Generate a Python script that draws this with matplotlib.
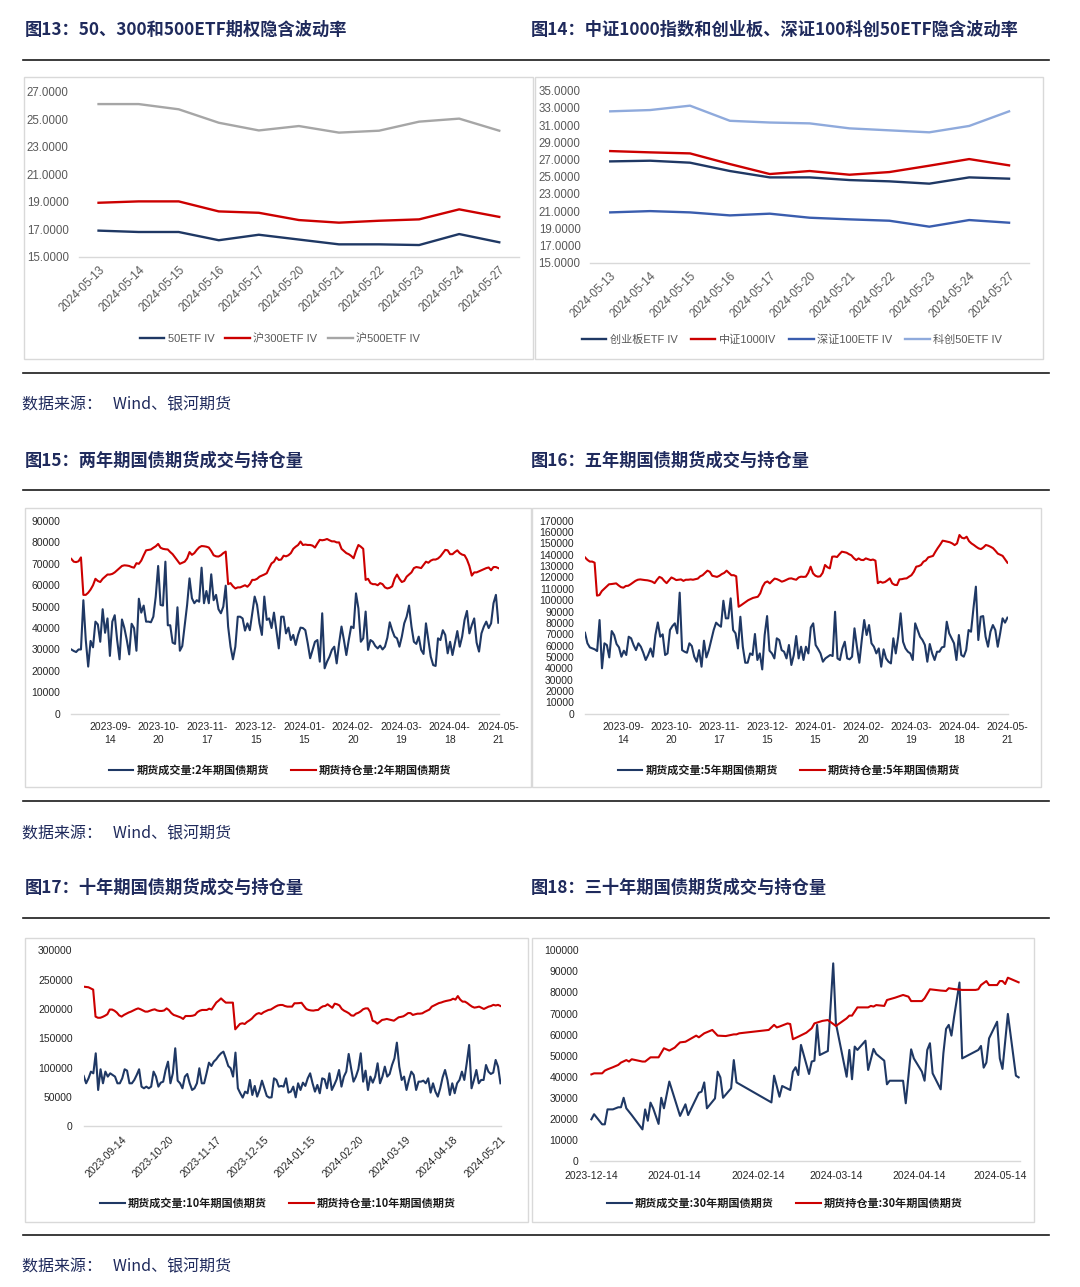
import numpy as np
import pandas as pd
import matplotlib
matplotlib.use("Agg")
import matplotlib.pyplot as plt
from matplotlib.patches import Rectangle
from matplotlib.lines import Line2D
from matplotlib.font_manager import FontProperties

plt.rcParams['font.family'] = ['Liberation Sans', 'Noto Sans CJK SC', 'DejaVu Sans']

# ---------------- data ----------------
iv_dates = ['2024-05-13', '2024-05-14', '2024-05-15', '2024-05-16', '2024-05-17', '2024-05-20',
            '2024-05-21', '2024-05-22', '2024-05-23', '2024-05-24', '2024-05-27']
iv_50 = [16.90, 16.80, 16.80, 16.20, 16.60, 16.25, 15.90, 15.90, 15.85, 16.65, 16.05]
iv_300 = [18.93, 19.03, 19.03, 18.30, 18.20, 17.67, 17.48, 17.62, 17.72, 18.45, 17.90]
iv_500 = [26.12, 26.12, 25.74, 24.76, 24.20, 24.52, 24.04, 24.18, 24.84, 25.06, 24.18]
iv_cyb = [26.78, 26.86, 26.63, 25.66, 24.92, 24.92, 24.61, 24.46, 24.19, 24.92, 24.77]
iv_zz1000 = [27.98, 27.83, 27.71, 26.47, 25.31, 25.66, 25.23, 25.54, 26.28, 27.05, 26.32]
iv_sz100 = [20.85, 21.00, 20.85, 20.50, 20.70, 20.23, 20.04, 19.88, 19.19, 19.96, 19.65]
iv_kc50 = [32.60, 32.75, 33.26, 31.50, 31.30, 31.20, 30.62, 30.39, 30.16, 30.90, 32.60]

# daily futures axis labels (every 20 trading days, last = 2024-05-21)
fut_labels = ['2023-09-14', '2023-10-20', '2023-11-17', '2023-12-15', '2024-01-15',
              '2024-02-20', '2024-03-19', '2024-04-18', '2024-05-21']
n_days = 177

# 2年期 (thousand lots)
vol2 = [30, 29.3, 28.8, 30, 30, 53, 34.4, 22, 34, 31,
        43, 41.7, 33.6, 48.8, 37.8, 44.5, 27, 43, 46, 34.4,
        25.4, 44, 40, 34.4, 27.7, 42, 40, 29.4, 53.7, 47.2,
        50.5, 43, 43, 42.7, 45.3, 54.7, 69, 50.8, 50.5, 71,
        41.3, 41.3, 33.2, 32.6, 49.7, 29.4, 31.6, 41.3, 50.8, 63.2,
        53.9, 51.6, 53, 52.3, 68.2, 51.6, 57.3, 51.6, 65.1, 53,
        55.5, 48.8, 46.9, 50, 59.8, 40.7, 31.3, 25.4, 31.3, 45.3,
        45.3, 44.5, 38.8, 42.2, 39, 46.9, 54.7, 50.8, 42.2, 36.8,
        54.7, 43.8, 44.5, 40, 47.2, 39, 30.5, 45.3, 45.3, 37.5,
        40.2, 34.4, 36.8, 32.1, 36.8, 40.2, 40, 39, 32.9, 25.9,
        29.8, 33.6, 34.4, 24.3, 46.9, 21.2, 24.3, 26.6, 29.8, 31.3,
        23.5, 32.9, 40.7, 34.4, 27.4, 34.4, 40.7, 40, 56.2, 49.2,
        33.6, 35.2, 47.7, 29.8, 34.4, 33.6, 31.6, 30.5, 31.8, 30,
        31.3, 35.5, 42.7, 39, 36, 35.2, 31.3, 36, 42.2, 45.3,
        50.5, 40.7, 33.6, 32.6, 36, 29.8, 27.9, 42.2, 34.4, 26.6,
        22.7, 22.3, 35.2, 34.4, 39, 36.8, 28.2, 33.6, 27.4, 32.9,
        38.6, 31.3, 36, 43.8, 48, 37.5, 41.4, 44.5, 33.2, 29,
        37.5, 40.7, 43, 40, 42.2, 51.6, 55.5, 42.5]
oi2 = [72.3, 71, 70.8, 71.2, 73, 55.5, 55.5, 56.5, 58, 60,
       63, 62, 61.5, 63, 64, 65, 65, 65.3, 66, 67,
       68, 69, 69.3, 69.2, 69, 68.5, 68.2, 70.3, 70, 71.5,
       74, 76.3, 76.5, 76.7, 77.5, 78.2, 79.3, 77.5, 77, 76.8,
       76.7, 75.5, 74.5, 73, 71.5, 70, 70.5, 71, 72.5, 75.5,
       74.2, 75, 76.5, 77.7, 78.3, 78.2, 78, 77.6, 76, 74,
       73.5, 73.4, 74, 75, 75.7, 60.5, 61, 59.5, 58.5, 59,
       59, 59.5, 60, 59.3, 60.5, 62.5, 62.5, 63, 64, 64.5,
       65, 65.6, 68, 70.2, 71, 73, 71.8, 72, 73.8, 73.5,
       74, 75, 77, 78, 78.8, 80.4, 78.8, 79, 78.8, 78.8,
       78.5, 77.6, 79.5, 81.2, 81, 81.2, 81.6, 81, 80.5, 80.5,
       80, 80, 77, 76, 75, 74.5, 73.7, 72.6, 76, 78.8,
       78, 77, 62.5, 63, 61, 60.5, 60.5, 60, 61, 60.5,
       59, 58.5, 58.8, 59.5, 63, 65, 63, 61.5, 62, 64,
       65, 66, 68, 68.5, 68.3, 68, 69.5, 71, 70.5, 71.5,
       72, 72, 72.5, 73.5, 75, 76.5, 76.3, 74.5, 74.5, 75.5,
       76.3, 75, 74.3, 74, 72, 69, 64.5, 66, 66, 66.5,
       67, 67.5, 68, 68.3, 67, 68.5, 68.5, 68]

# 5年期 (thousand lots)
vol5 = [71.3, 62, 58.4, 57.5, 56.7, 55.2, 82.5, 40, 62, 60.5,
        49.6, 72.8, 69.3, 61.4, 58.4, 50.2, 55.5, 51.7, 67.8, 66.4,
        60.5, 56, 62, 59, 53.7, 47.3, 51.7, 57.5, 50.2, 69.3,
        80.4, 67.8, 69.9, 51.7, 53.1, 73.7, 77.2, 79.6, 70.8, 106.6,
        56, 54.6, 53.7, 62, 59.6, 50.2, 45.8, 56, 41.4, 64.3,
        49.6, 56, 64.9, 73.7, 80.2, 78.1, 76.6, 99.5, 84, 84,
        101.6, 73.7, 70.8, 57.5, 85.4, 59, 44.9, 44.9, 53.1, 51.7,
        70.2, 47.3, 53.1, 39, 69.3, 86, 55.5, 53.1, 48.7, 66.4,
        64.9, 56, 54.6, 48.7, 60.5, 42.9, 51.7, 68.4, 48.7, 59,
        47.3, 59, 53.1, 76, 79.6, 60.5, 57, 53.1, 45.8, 48.7,
        50.2, 51.7, 50.8, 89.8, 48.7, 47.3, 57.5, 63.4, 48.7, 47.9,
        50.2, 75.2, 59, 44.9, 64.9, 82.5, 69.3, 78.1, 62, 59,
        53.1, 57.5, 41.4, 56.7, 48.7, 45.8, 44.3, 66.4, 53.1, 67.8,
        88.4, 63.4, 57.5, 54.6, 53.1, 47.3, 79.6, 73.7, 67.8, 64.9,
        60.5, 45.8, 61.4, 53.1, 47.3, 54.6, 54.6, 58.4, 59, 81,
        70.8, 66.4, 62, 47.3, 69.3, 51.7, 50.2, 56, 73.7, 72.2,
        92.8, 111.9, 64.9, 85.4, 86, 67.8, 59, 72.2, 78.1, 73.7,
        59, 70.8, 84, 80.2, 84.6]
oi5 = [137.7, 135.5, 134, 134, 133, 104, 104.5, 108, 110, 112,
       114, 114.2, 114.5, 114.8, 113, 111.5, 111, 112.5, 112.7, 114,
       115.5, 117, 118, 118.3, 118, 117.7, 117.5, 117, 116.3, 115,
       118, 120.5, 119.5, 117, 115, 117.5, 120, 119, 117.7, 118,
       118.3, 117, 118, 118, 118.3, 118, 118.5, 119, 121, 122,
       124, 126, 125, 121.5, 121, 120.5, 121.5, 123, 124, 126,
       124, 122, 122, 121, 94.2, 95.5, 97, 98.5, 100, 101,
       102, 102.5, 103, 106, 112, 115.5, 116.5, 114.8, 117, 119,
       118.5, 117.5, 116.3, 117, 118, 119, 119.2, 118.5, 118, 120,
       120.7, 120.5, 120.7, 124, 129.5, 123.6, 121.5, 120.7, 121, 124,
       131, 129, 128, 138.3, 138.5, 138, 140.5, 142.7, 142.3, 141.8,
       140.5, 139.5, 137, 135.3, 136.8, 135.5, 135.3, 136.8, 136, 135.3,
       135.8, 134.8, 115, 116.3, 115.4, 116, 117.5, 119.2, 114.8, 113.5,
       113.3, 118.3, 118.5, 119, 119.2, 120.7, 122, 125, 129.5, 130,
       131, 133.9, 135, 137.7, 138.3, 139, 142.7, 146, 149, 152.4,
       152, 151.5, 151, 150, 148.5, 150, 157.4, 155, 154.4, 155.9,
       152, 150, 148.6, 147, 145.6, 145, 146.5, 148.6, 148, 147,
       145.8, 143.5, 141, 140, 139, 136, 133]

# 10年期 (thousand lots)
vol10 = [85.8, 73.3, 81.8, 93.2, 90.3, 124.4, 61.9, 97.2, 73.3, 93.2,
         84.7, 90.3, 87.5, 84.7, 73.3, 73.3, 81.8, 97.2, 94.9, 73.3,
         73.3, 79, 87.5, 97.2, 67.6, 64.8, 67.6, 64.8, 67.6, 93.2,
         84.7, 67.6, 74.4, 76.1, 96, 110.2, 73.3, 90.3, 133, 77.8,
         73.3, 64.8, 84.7, 89.2, 73.3, 61.9, 64.8, 73.3, 98.9, 73.3,
         73.3, 90.3, 108.5, 102.8, 110.2, 114.2, 119.9, 124.4, 127.3, 115.9,
         102.8, 98.9, 84.7, 125.6, 64.8, 56.3, 48.9, 59.1, 56.3, 79,
         53.4, 68.8, 50.6, 61.9, 77.8, 64.8, 51.7, 48.9, 49.4, 81.8,
         79, 67.6, 68.8, 67.6, 81.8, 57.4, 59.1, 67.6, 49.4, 73.3,
         61.9, 74.4, 68.8, 81.8, 90.3, 73.3, 59.1, 70.5, 56.3, 81.8,
         80.1, 64.8, 90.3, 61.9, 70.5, 80.1, 96, 67.6, 84.7, 93.2,
         123.3, 98.9, 76.1, 84.7, 97.2, 124.4, 76.1, 94.9, 61.9, 84.7,
         74.4, 84.7, 107.4, 73.3, 84.7, 101.7, 84.7, 89.2, 104.5, 115.9,
         142.6, 101.7, 79, 84.7, 61.9, 79, 93.2, 87.5, 61.9, 76.1,
         76.1, 77.8, 73.3, 81.8, 57.4, 73.3, 59.1, 50.6, 64.8, 83.5,
         96, 79, 53.4, 73.3, 56.3, 73.3, 79, 93.2, 79, 107.4,
         138.6, 64.8, 79, 96, 73.3, 79, 79, 104.5, 93.2, 89.2,
         91.5, 113.1, 101.7, 73.3]
oi10 = [238, 237.5, 237, 235, 233, 187, 185, 185, 186.5, 188.5,
        191, 199, 199, 197, 193.8, 189, 187, 189.8, 192, 194,
        195.5, 197.5, 199.5, 201, 199.5, 197.5, 195.5, 195.5, 197, 198.5,
        199.4, 197.5, 196.6, 196.6, 197.5, 201, 198, 193, 189.8, 188.5,
        187, 185.5, 183, 188, 188, 188, 188.5, 189.8, 194.5, 197,
        198.3, 198.3, 198.3, 200.5, 199, 205, 211, 214.2, 218, 214.2,
        210.8, 210.8, 210.8, 210.8, 165.3, 170, 174.5, 175.6, 174.4, 178,
        180.5, 183.5, 188, 191.5, 193, 191.5, 194.5, 196.5, 198.3, 199,
        201.5, 204, 206, 206.8, 206.8, 205, 204, 204, 204, 209.7,
        209.7, 210, 210.5, 205, 200, 198.3, 197.5, 197.2, 198, 198.3,
        202, 204.5, 205.1, 208, 205, 202, 209, 208, 206, 200,
        197, 195, 192.6, 189, 188.5, 192, 193.5, 196, 199.5, 201,
        201, 195, 180, 178.4, 175, 178, 181.3, 182, 183, 182,
        181, 180, 183, 185.8, 186.5, 187.5, 190, 193, 193, 189.8,
        191, 192, 192, 192.6, 195, 197, 199, 204, 206, 208,
        210, 211, 212.5, 213.6, 214.5, 215.3, 217.5, 216, 222, 216,
        212.5, 212.5, 210, 206.8, 204, 202.3, 203, 204, 202, 200,
        202, 204, 205, 207, 206, 207, 205.1]

# 30年期 (thousand lots), dated
vol30_dates = ['2023-12-14', '2023-12-15', '2023-12-18', '2023-12-19', '2023-12-20', '2023-12-22',
               '2023-12-24', '2023-12-25', '2023-12-26', '2023-12-27', '2023-12-28', '2023-12-29',
               '2024-01-02', '2024-01-03', '2024-01-04', '2024-01-05', '2024-01-06', '2024-01-08',
               '2024-01-09', '2024-01-10', '2024-01-12', '2024-01-16', '2024-01-18', '2024-01-19',
               '2024-01-23', '2024-01-24', '2024-01-25', '2024-01-26', '2024-01-29', '2024-01-30',
               '2024-01-31', '2024-02-01', '2024-02-04', '2024-02-05', '2024-02-06', '2024-02-19',
               '2024-02-20', '2024-02-22', '2024-02-23', '2024-02-26', '2024-02-27', '2024-02-28',
               '2024-02-29', '2024-03-01', '2024-03-04', '2024-03-05', '2024-03-06', '2024-03-07',
               '2024-03-08', '2024-03-11', '2024-03-13', '2024-03-14', '2024-03-18', '2024-03-19',
               '2024-03-20', '2024-03-21', '2024-03-22', '2024-03-25', '2024-03-26', '2024-03-28',
               '2024-03-29', '2024-04-01', '2024-04-02', '2024-04-03', '2024-04-08', '2024-04-09',
               '2024-04-11', '2024-04-12', '2024-04-15', '2024-04-16', '2024-04-17', '2024-04-18',
               '2024-04-19', '2024-04-22', '2024-04-23', '2024-04-24', '2024-04-25', '2024-04-26',
               '2024-04-27', '2024-04-29', '2024-04-30', '2024-05-06', '2024-05-07', '2024-05-08',
               '2024-05-09', '2024-05-10', '2024-05-13', '2024-05-14', '2024-05-15', '2024-05-17',
               '2024-05-20', '2024-05-21']
vol30 = [19.8, 22.2, 17.4, 17.4, 24.5, 24.5, 25.5, 25.5, 30, 25, 23.4, 21.8,
         15, 24.5, 19.1, 27.7, 25, 17.6, 30, 25, 37.7, 21.4, 26.9, 21.8,
         32.4, 32.9, 37.3, 25, 29.7, 42.4, 39.7, 30, 34.5, 47.9, 37.3, 27.8,
         40.5, 30.5, 35.6, 33.7, 42.4, 44.5, 40.8, 55.1, 41.3, 47.2, 47.6, 64.6,
         50.3, 52.2, 93.8, 65.3, 40, 52.7, 38.8, 54.3, 52.7, 57.1, 43.2, 53.2,
         50.8, 47.6, 36.4, 38.1, 38.1, 27.4, 53, 48.7, 42.4, 38.1, 52.7, 55.9,
         41.6, 34, 51.1, 62.7, 64.6, 59.5, 68.5, 84.7, 48.7, 52.7, 54.6, 44.3,
         46.7, 58.2, 66.1, 48.7, 43.7, 69.8, 40.5, 39.7]
oi30_dates = ['2023-12-14', '2023-12-15', '2023-12-18', '2023-12-19', '2023-12-20', '2023-12-22',
              '2023-12-24', '2023-12-25', '2023-12-27', '2023-12-28', '2023-12-29', '2024-01-02',
              '2024-01-03', '2024-01-05', '2024-01-08', '2024-01-10', '2024-01-12', '2024-01-14',
              '2024-01-15', '2024-01-16', '2024-01-18', '2024-01-22', '2024-01-23', '2024-01-25',
              '2024-01-28', '2024-01-30', '2024-02-02', '2024-02-05', '2024-02-06', '2024-02-07',
              '2024-02-18', '2024-02-20', '2024-02-21', '2024-02-22', '2024-02-25', '2024-02-26',
              '2024-02-27', '2024-02-29', '2024-03-03', '2024-03-05', '2024-03-06', '2024-03-09',
              '2024-03-11', '2024-03-14', '2024-03-15', '2024-03-18', '2024-03-19', '2024-03-20',
              '2024-03-22', '2024-03-26', '2024-03-27', '2024-03-28', '2024-03-29', '2024-04-01',
              '2024-04-02', '2024-04-05', '2024-04-08', '2024-04-10', '2024-04-11', '2024-04-15',
              '2024-04-16', '2024-04-18', '2024-04-20', '2024-04-22', '2024-04-24', '2024-04-25',
              '2024-04-27', '2024-04-30', '2024-05-05', '2024-05-06', '2024-05-07', '2024-05-09',
              '2024-05-10', '2024-05-13', '2024-05-14', '2024-05-15', '2024-05-16', '2024-05-17',
              '2024-05-19', '2024-05-21']
oi30 = [41.1, 41.6, 41.6, 42.9, 43.5, 44.5, 45.6, 46.7, 47.9, 47.2, 48.3, 47.2,
        47.2, 49.2, 49.2, 53.5, 52.4, 53.8, 55.1, 56.3, 56.6, 59.5, 58.7, 60.6,
        62.2, 59.5, 59.3, 60.1, 60.1, 60.6, 62.2, 64.6, 63.4, 63.8, 65.3, 65,
        57.8, 59, 60.9, 63, 65.3, 66.5, 66.9, 64.1, 65, 67.7, 69, 69,
        72.9, 72.9, 73.6, 73.3, 74, 73.6, 76.4, 77.5, 78.8, 78, 75.9, 75.9,
        77.2, 81.5, 81.2, 80.9, 80.7, 82, 81.6, 81.2, 81.2, 81.5, 83.5, 85.4,
        83.5, 83.5, 85.4, 85.4, 84, 87, 85.9, 84.8]
ticks30 = ['2023-12-14', '2024-01-14', '2024-02-14', '2024-03-14', '2024-04-14', '2024-05-14']

# ---------------- layout helpers ----------------
W, H = 1080, 1287
NAVY = '#1F3864'
RED = '#CC0000'
TITLE_C = '#1F2A5C'
fig = plt.figure(figsize=(W / 100, H / 100), dpi=100)


def fx(x):
    return x / W


def fy(y):
    return 1 - y / H


def hline(y, x0=23, x1=1049):
    fig.add_artist(Line2D([fx(x0), fx(x1)], [fy(y), fy(y)], color='#1a1a1a', lw=1.2))


def frame(x0, y0, x1, y1):
    fig.add_artist(Rectangle((fx(x0), fy(y1)), (x1 - x0) / W, (y1 - y0) / H,
                             fill=False, edgecolor='#D9D9D9', lw=1.0))


def add_ax(x0, y0, x1, y1):
    ax = fig.add_axes([fx(x0), fy(y1), (x1 - x0) / W, (y1 - y0) / H])
    ax.patch.set_alpha(0)
    for s in ['top', 'left', 'right']:
        ax.spines[s].set_visible(False)
    ax.spines['bottom'].set_color('#D9D9D9')
    ax.spines['bottom'].set_linewidth(1.0)
    ax.tick_params(length=0)
    return ax


def legend(handles, labels, cx, cy, prop, color, colsp):
    fig.legend(handles, labels, loc='center', bbox_to_anchor=(fx(cx), fy(cy)),
               bbox_transform=fig.transFigure, ncol=len(handles), frameon=False,
               prop=prop, labelcolor=color, handlelength=2.2, handletextpad=0.3,
               columnspacing=colsp, borderpad=0)


def title(x, y, s):
    fig.text(fx(x), fy(y), s, fontsize=12.4, fontweight='bold', color=TITLE_C,
             family=['Noto Sans CJK SC', 'DejaVu Sans'], va='center', ha='left')


def source(y):
    fig.text(fx(22), fy(y), '数据来源：   Wind、银河期货', fontsize=11.5, color=TITLE_C,
             family=['Noto Sans CJK SC', 'DejaVu Sans'], va='center', ha='left')


NARROW = ['Liberation Sans Narrow', 'Liberation Sans', 'Noto Sans CJK SC']
iv_prop = FontProperties(family=NARROW, size=8)
fut_prop = FontProperties(family=['Noto Sans CJK SC', 'DejaVu Sans'], weight='bold', size=8)

# ---------------- frame lines and titles ----------------
for y in [60, 373, 490, 801, 918, 1235]:
    hline(y)
title(25, 29.5, '图13：50、300和500ETF期权隐含波动率')
title(531, 29.5, '图14：中证1000指数和创业板、深证100科创50ETF隐含波动率')
title(25, 460.5, '图15：两年期国债期货成交与持仓量')
title(531, 460.5, '图16：五年期国债期货成交与持仓量')
title(25, 888, '图17：十年期国债期货成交与持仓量')
title(531, 888, '图18：三十年期国债期货成交与持仓量')
source(405)
source(834)
source(1267)

frame(24, 77, 533, 359)
frame(535.3, 77, 1043, 359)
frame(24.8, 507.7, 531, 786.7)
frame(531.8, 507.7, 1041.4, 786.7)
frame(25, 937.7, 528, 1221.7)
frame(531.8, 937.7, 1034.4, 1221.7)


def iv_axes(ax, lo, hi):
    x = np.arange(len(iv_dates))
    ax.set_xlim(-0.5, len(iv_dates) - 0.5)
    ax.set_ylim(lo, hi)
    yt = np.arange(lo, hi + 1, 2)
    ax.set_yticks(yt, labels=['%.4f' % v for v in yt], fontfamily=NARROW,
                  fontsize=8.3, color='#595959')
    ax.set_xticks(x, labels=iv_dates, rotation=45, ha='right', va='top',
                  rotation_mode='anchor', fontfamily=NARROW, fontsize=8.3, color='#595959')
    ax.tick_params(axis='y', pad=7)
    ax.tick_params(axis='x', pad=5)
    return x


# ---------------- 图13 ----------------
ax = add_ax(78.5, 92, 519.3, 256.7)
x = iv_axes(ax, 15, 27)
h1, = ax.plot(x, iv_50, color=NAVY, lw=1.7)
h2, = ax.plot(x, iv_300, color=RED, lw=1.7)
h3, = ax.plot(x, iv_500, color='#A6A6A6', lw=1.7)
legend([h1, h2, h3], ['50ETF IV', '沪300ETF IV', '沪500ETF IV'], 280, 339, iv_prop, '#595959', 1.0)

# ---------------- 图14 ----------------
ax = add_ax(590.3, 90.7, 1029, 262.7)
x = iv_axes(ax, 15, 35)
h1, = ax.plot(x, iv_cyb, color=NAVY, lw=1.7)
h2, = ax.plot(x, iv_zz1000, color=RED, lw=1.7)
h3, = ax.plot(x, iv_sz100, color='#3A5DAE', lw=1.7)
h4, = ax.plot(x, iv_kc50, color='#8FAADC', lw=1.7)
legend([h1, h2, h3, h4], ['创业板ETF IV', '中证1000IV', '深证100ETF IV', '科创50ETF IV'],
       792, 340, iv_prop, '#595959', 1.2)


def fut_axes(ax, series_vol, series_oi, top, step, rotate):
    xv = np.linspace(0, n_days - 1, len(series_vol))
    xo = np.linspace(0, n_days - 1, len(series_oi))
    h1, = ax.plot(xv, np.array(series_vol) * 1000, color=NAVY, lw=1.5)
    h2, = ax.plot(xo, np.array(series_oi) * 1000, color=RED, lw=1.5)
    ax.set_xlim(0, n_days - 0.6)
    ax.set_ylim(0, top)
    yt = np.arange(0, top + 1, step)
    ax.set_yticks(yt, labels=['%d' % v for v in yt], fontsize=7.5, color='#262626')
    pos = [n_days - 1 - 20 * j for j in range(len(fut_labels))][::-1]
    if rotate:
        ax.set_xticks(pos, labels=fut_labels, rotation=45, ha='right', va='top',
                      rotation_mode='anchor', fontsize=7.5, color='#262626')
        ax.tick_params(axis='x', pad=6)
    else:
        labs = [s[:8] + '\n' + s[8:] for s in fut_labels]
        ax.set_xticks(pos, labels=labs, fontsize=7.5, color='#262626', linespacing=1.35)
        ax.tick_params(axis='x', pad=6)
    ax.tick_params(axis='y', pad=8)
    return h1, h2


# ---------------- 图15 ----------------
ax = add_ax(71.3, 521, 499.3, 713.7)
h = fut_axes(ax, vol2, oi2, 90000, 10000, False)
legend(list(h), ['期货成交量:2年期国债期货', '期货持仓量:2年期国债期货'], 280, 770, fut_prop, '#1a1a1a', 2.0)

# ---------------- 图16 ----------------
ax = add_ax(585, 520.7, 1008.4, 713.7)
h = fut_axes(ax, vol5, oi5, 170000, 10000, False)
legend(list(h), ['期货成交量:5年期国债期货', '期货持仓量:5年期国债期货'], 789, 770, fut_prop, '#1a1a1a', 2.0)

# ---------------- 图17 ----------------
ax = add_ax(83.7, 950.3, 501.4, 1126.3)
h = fut_axes(ax, vol10, oi10, 300000, 50000, True)
legend(list(h), ['期货成交量:10年期国债期货', '期货持仓量:10年期国债期货'], 278, 1203, fut_prop, '#1a1a1a', 2.0)

# ---------------- 图18 ----------------
ax = add_ax(589.6, 950.3, 1020.4, 1161)
d_vol = pd.to_datetime(vol30_dates)
d_oi = pd.to_datetime(oi30_dates)
h1, = ax.plot(d_vol, np.array(vol30) * 1000, color=NAVY, lw=1.5)
h2, = ax.plot(d_oi, np.array(oi30) * 1000, color=RED, lw=1.5)
ax.set_xlim(pd.Timestamp('2023-12-13 08:00'), pd.Timestamp('2024-05-21 16:00'))
ax.set_ylim(0, 100000)
yt = np.arange(0, 100001, 10000)
ax.set_yticks(yt, labels=['%d' % v for v in yt], fontsize=7.5, color='#262626')
ax.set_xticks(pd.to_datetime(ticks30), labels=ticks30, fontsize=7.5, color='#262626')
ax.tick_params(axis='x', pad=7)
ax.tick_params(axis='y', pad=8)
legend([h1, h2], ['期货成交量:30年期国债期货', '期货持仓量:30年期国债期货'], 785, 1203, fut_prop, '#1a1a1a', 2.0)

fig.savefig('out.png', dpi=100)
